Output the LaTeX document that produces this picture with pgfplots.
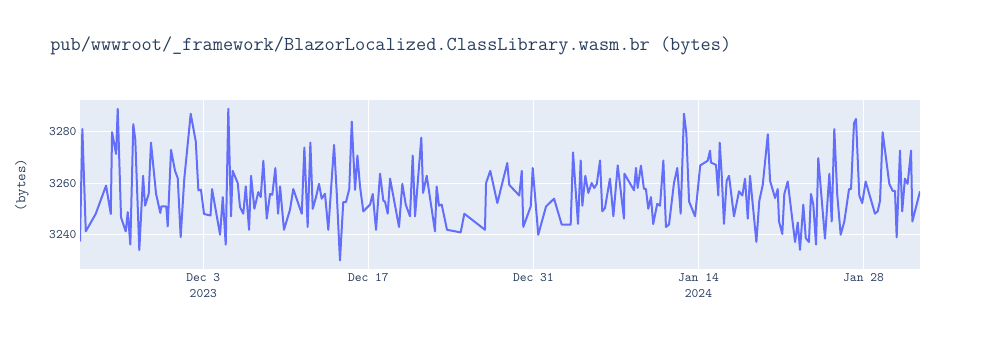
\documentclass[border=0pt]{standalone}
\usepackage{pgfplots}
\pgfplotsset{compat=1.18}
\usepackage{fontspec}
\definecolor{bgplot}{HTML}{E5ECF6}
\definecolor{linec}{HTML}{636EFA}
\definecolor{txt}{HTML}{2A3F5F}
\begin{document}
\begin{tikzpicture}[font=\ttfamily]
\path (0pt,0pt) rectangle (750pt,262.5pt);
\node[anchor=base west, text=txt, inner sep=0, font=\ttfamily\fontsize{14.8}{16}\selectfont] at (37.5pt,224.25pt) {pub/wwwroot/\_framework/BlazorLocalized.ClassLibrary.wasm.br (bytes)};
\node[rotate=90, text=txt, inner sep=0, font=\ttfamily\fontsize{11}{12}\selectfont] at (16.5pt,123.75pt) {(bytes)};
\begin{axis}[
  at={(60pt,60.75pt)}, anchor=south west,
  width=630pt, height=126.75pt, scale only axis,
  xmin=-10.46, xmax=60.79, ymin=3226.9, ymax=3292.0,
  axis background/.style={fill=bgplot},
  axis line style={draw=none},
  major tick length=0pt,
  grid=major, grid style={white, line width=0.75pt},
  xtick={0,14,28,42,56},
  xticklabels={Dec 3\\2023, Dec 17, Dec 31, Jan 14\\2024, Jan 28},
  xticklabel style={anchor=north, inner sep=0pt, yshift=-3pt, align=center, text=txt, font=\ttfamily\fontsize{9.7}{12}\selectfont},
  ytick={3240,3260,3280},
  yticklabels={3240,3260,3280},
  yticklabel style={anchor=east, inner sep=0pt, xshift=-2.5pt, text=txt, font=\ttfamily\fontsize{9.7}{12}\selectfont},
  /pgf/number format/assume math mode=true,
  clip=true,
]
\addplot[linec, line width=1.5pt, line join=round, no marks] coordinates {
(-10.46,3237.5)(-10.26,3280.8)(-9.97,3241.4)(-9.13,3248.1)(-8.25,3259.0)(-7.85,3248.1)
(-7.74,3279.6)(-7.40,3271.2)(-7.26,3288.6)(-6.98,3246.8)(-6.58,3241.4)(-6.41,3248.8)
(-6.19,3236.3)(-5.94,3282.7)(-5.77,3276.7)(-5.43,3234.2)(-5.11,3262.8)(-4.94,3251.3)
(-4.63,3255.9)(-4.44,3275.6)(-4.01,3255.9)(-3.65,3248.5)(-3.56,3251.0)(-3.14,3251.0)
(-3.02,3243.3)(-2.74,3272.8)(-2.40,3264.7)(-2.17,3261.9)(-1.92,3239.2)(-1.61,3261.9)
(-1.07,3286.7)(-0.64,3276.0)(-0.42,3257.2)(-0.20,3257.4)(0.06,3248.1)(0.61,3247.5)
(0.74,3257.7)(1.42,3240.1)(1.65,3254.6)(1.90,3236.3)(2.12,3288.6)(2.35,3247.2)
(2.49,3264.7)(2.92,3260.0)(3.11,3250.8)(3.39,3248.2)(3.60,3258.7)(3.88,3242.0)
(4.05,3262.8)(4.33,3250.1)(4.66,3256.5)(4.87,3254.6)(5.09,3268.6)(5.38,3246.3)
(5.66,3255.8)(5.85,3255.5)(6.11,3265.8)(6.34,3248.2)(6.51,3258.7)(6.84,3242.0)
(7.35,3249.7)(7.63,3257.7)(8.35,3248.2)(8.57,3273.7)(8.85,3243.1)(9.08,3275.6)
(9.28,3250.1)(9.56,3254.6)(9.81,3259.7)(10.04,3254.0)(10.32,3255.9)(10.60,3242.0)
(11.09,3274.7)(11.31,3256.8)(11.59,3230.2)(11.87,3252.7)(12.10,3252.7)(12.38,3257.8)
(12.59,3283.7)(12.87,3257.4)(13.07,3270.6)(13.29,3258.7)(13.57,3249.1)(14.14,3251.7)
(14.37,3255.8)(14.65,3242.0)(14.99,3263.6)(15.27,3253.2)(15.41,3252.9)(15.64,3248.2)
(15.84,3261.7)(16.60,3243.1)(16.88,3259.7)(17.17,3251.7)(17.53,3247.2)(17.76,3270.6)
(17.96,3247.2)(18.49,3277.5)(18.64,3256.2)(18.95,3262.8)(19.65,3241.4)(19.79,3258.7)
(19.99,3251.3)(20.22,3251.7)(20.67,3242.0)(21.83,3241.0)(22.14,3248.2)(23.89,3242.0)
(23.98,3260.0)(24.34,3264.7)(24.94,3252.3)(25.78,3267.7)(25.95,3259.3)(26.80,3255.2)
(27.01,3264.7)(27.14,3243.1)(27.77,3251.0)(27.94,3265.8)(28.41,3240.1)(29.07,3251.0)
(29.75,3254.0)(30.40,3244.0)(31.16,3244.0)(31.36,3271.8)(31.78,3244.3)(32.01,3268.7)
(32.15,3251.3)(32.40,3262.8)(32.66,3256.2)(32.94,3260.0)(33.16,3258.1)(33.37,3259.6)
(33.65,3268.7)(33.84,3249.1)(34.07,3250.4)(34.49,3261.7)(34.78,3247.2)(35.15,3266.8)
(35.68,3246.3)(35.72,3263.6)(36.53,3257.2)(36.70,3265.8)(36.84,3258.1)(37.12,3266.7)
(37.37,3257.8)(37.54,3257.8)(37.74,3250.1)(37.97,3254.6)(38.16,3244.2)(38.50,3252.0)
(38.74,3251.3)(39.02,3268.7)(39.24,3243.1)(39.50,3244.0)(39.92,3260.0)(40.20,3265.8)
(40.49,3248.2)(40.77,3286.7)(40.97,3279.2)(41.20,3252.9)(41.71,3247.2)(42.15,3266.8)
(42.78,3268.6)(42.98,3272.5)(43.06,3267.9)(43.49,3267.0)(43.68,3255.2)(43.80,3275.6)
(43.97,3263.2)(44.16,3244.3)(44.39,3260.9)(44.59,3262.8)(45.01,3247.2)(45.44,3256.8)
(45.72,3255.2)(45.95,3261.7)(46.18,3246.3)(46.37,3262.8)(46.91,3237.3)(47.16,3253.2)
(47.45,3259.3)(47.88,3278.8)(48.07,3260.9)(48.50,3254.2)(48.72,3257.7)(48.83,3245.2)
(49.11,3240.4)(49.28,3255.8)(49.57,3260.6)(50.19,3237.3)(50.42,3244.8)(50.61,3234.3)
(50.89,3251.7)(51.10,3238.8)(51.37,3237.3)(51.54,3255.8)(51.74,3251.7)(51.97,3236.3)
(52.16,3269.6)(52.73,3238.6)(53.10,3263.6)(53.30,3245.2)(53.52,3280.8)(53.77,3255.5)
(54.06,3240.1)(54.37,3245.2)(54.77,3257.7)(54.94,3257.7)(55.19,3283.1)(55.36,3284.7)
(55.64,3255.1)(55.89,3252.3)(56.18,3260.6)(56.97,3248.2)(57.20,3249.1)(57.40,3253.2)
(57.62,3279.6)(58.19,3259.6)(58.47,3257.0)(58.67,3257.0)(58.81,3239.1)(59.09,3272.5)
(59.28,3249.1)(59.51,3261.7)(59.74,3259.7)(60.03,3272.5)(60.14,3245.2)(60.79,3256.8)
};
\end{axis}
\end{tikzpicture}
\end{document}
